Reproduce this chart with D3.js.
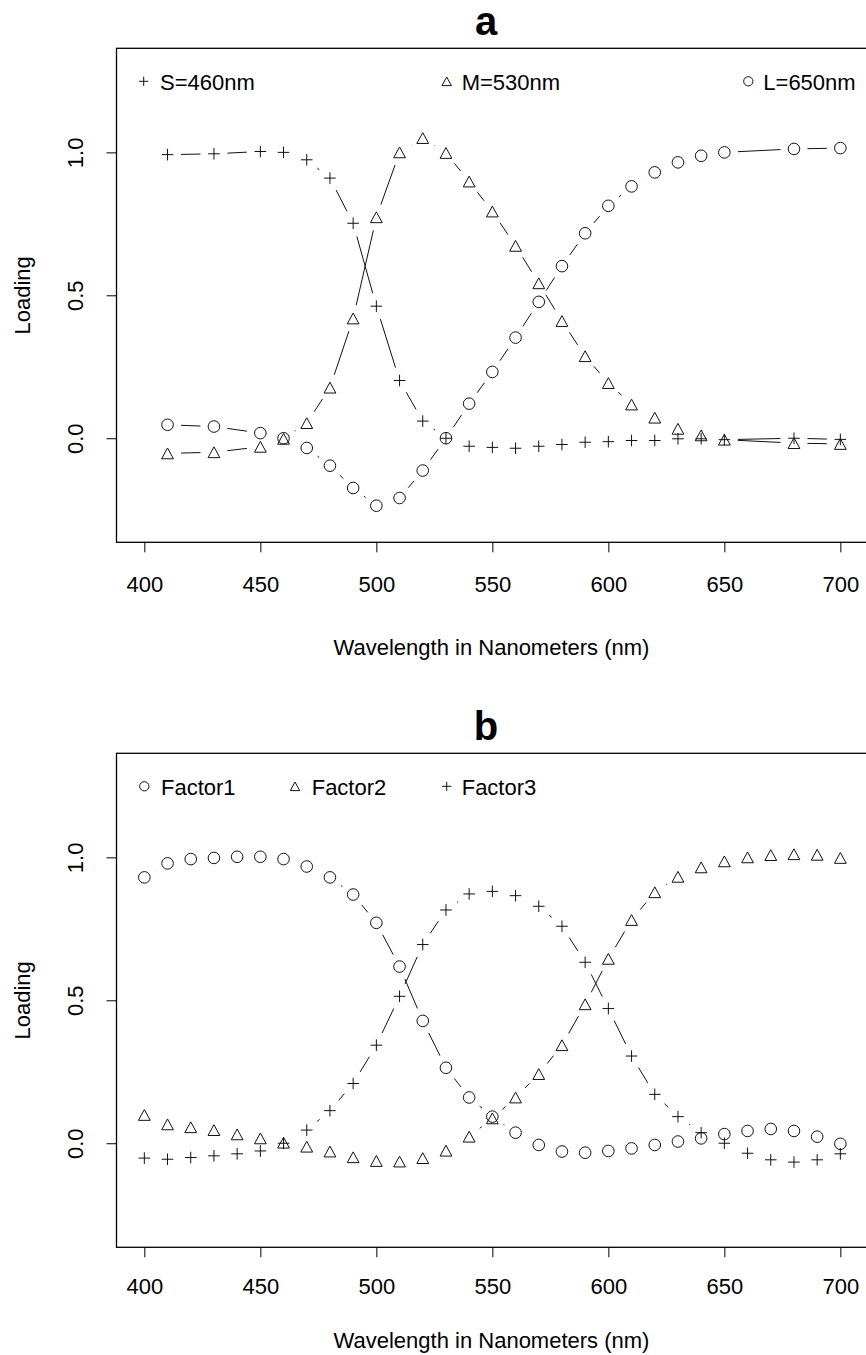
<!DOCTYPE html>
<html>
<head>
<meta charset="utf-8">
<style>
	body { margin: 0; background: #fff; }
	svg { display: block; }
	text {
		font-family: "Liberation Sans", Arial, Helvetica, sans-serif;
		font-size: 22px;
		fill: #000;
	}
	.box { fill: none; stroke: #000; stroke-width: 1.3px; }
	.seg { stroke: #111; stroke-width: 1px; }
	.pt { fill: none; stroke: #111; stroke-width: 1px; }
	.title { font-weight: bold; font-size: 40px; }
</style>
</head>
<body>
<svg width="866" height="1355"></svg>
<script src="https://d3js.org/d3.v7.min.js"></script>
<script>

	// panel a: cone sensitivities
	var waveA = [410, 430, 450, 460, 470, 480, 490, 500, 510, 520, 530, 540, 550,
		560, 570, 580, 590, 600, 610, 620, 630, 640, 650, 680, 700];
	var sLoad = [0.992, 0.995, 1.003, 1.0, 0.974, 0.91, 0.752, 0.462, 0.202, 0.06, 0.0, -0.028, -0.032,
		-0.035, -0.028, -0.022, -0.014, -0.012, -0.008, -0.008, -0.002, -0.002, -0.005, 0.0, -0.004];
	var mLoad = [-0.053, -0.049, -0.03, -0.002, 0.053, 0.177, 0.419, 0.773, 1.0, 1.05, 0.998, 0.898, 0.793,
		0.673, 0.542, 0.41, 0.287, 0.193, 0.118, 0.072, 0.033, 0.01, -0.005, -0.017, -0.02];
	var lLoad = [0.047, 0.041, 0.018, 0.0, -0.034, -0.096, -0.174, -0.236, -0.209, -0.113, 0.0, 0.121, 0.232,
		0.352, 0.477, 0.602, 0.717, 0.813, 0.881, 0.93, 0.965, 0.988, 1.0, 1.012, 1.015];

	// panel b: factor loadings
	var waveB = [400, 410, 420, 430, 440, 450, 460, 470, 480, 490, 500, 510, 520, 530, 540, 550,
		560, 570, 580, 590, 600, 610, 620, 630, 640, 650, 660, 670, 680, 690, 700];
	var factor1 = [0.93, 0.979, 0.994, 0.998, 1.002, 1.002, 0.994, 0.968, 0.93, 0.87, 0.771, 0.618, 0.428, 0.264, 0.16, 0.093,
		0.037, -0.006, -0.029, -0.033, -0.027, -0.018, -0.006, 0.006, 0.017, 0.032, 0.043, 0.05, 0.043, 0.023, -0.002];
	var factor2 = [0.099, 0.066, 0.056, 0.046, 0.031, 0.017, 0.002, -0.012, -0.029, -0.049, -0.062, -0.064, -0.052, -0.026, 0.023, 0.087,
		0.16, 0.242, 0.343, 0.486, 0.645, 0.781, 0.878, 0.932, 0.965, 0.986, 1.0, 1.008, 1.011, 1.009, 0.998];
	var factor3 = [-0.052, -0.056, -0.05, -0.044, -0.037, -0.027, 0.0, 0.046, 0.114, 0.209, 0.343, 0.514, 0.695, 0.816, 0.872, 0.881,
		0.866, 0.829, 0.759, 0.633, 0.471, 0.305, 0.171, 0.093, 0.037, 0.0, -0.035, -0.058, -0.066, -0.058, -0.037];

	var xTicks = [400, 450, 500, 550, 600, 650, 700];
	var yTicks = [0, 0.5, 1];
	var xLim = [400, 700], yLim = [-0.3, 1.3];

	var svg = d3.select("svg");

	// R style 4% axis extension
	function ext(l) { var d = (l[1] - l[0]) * 0.04; return [l[0] - d, l[1] + d]; }

	var left = 116.5, right = 868.2, boxH = 494, gap = 13.5;
	var x = d3.scaleLinear().domain(ext(xLim)).range([left, right]);

	var marker = {
		plus: function (g, px, py, s) {
			g.append("path").attr("class", "pt")
				.attr("d", "M" + (px - 5.8 * s) + "," + py + "H" + (px + 5.8 * s) +
					"M" + px + "," + (py - 5.8 * s) + "V" + (py + 5.8 * s));
		},
		circle: function (g, px, py, s) {
			g.append("circle").attr("class", "pt").attr("cx", px).attr("cy", py).attr("r", 5.8 * s);
		},
		tri: function (g, px, py, s) {
			var w = 5.9 * s, h = 5.4 * s;
			g.append("path").attr("class", "pt")
				.attr("d", "M" + px + "," + (py - h) + "L" + (px + w) + "," + (py + h) + "L" + (px - w) + "," + (py + h) + "Z");
		}
	};

	function panel(top, label, labY, titleY, series, legend) {
		var y = d3.scaleLinear().domain(ext(yLim)).range([top + boxH, top]);
		var g = svg.append("g");

		// axes first, then box on top
		var xa = g.append("g").attr("transform", "translate(0," + (top + boxH) + ")")
			.call(d3.axisBottom(x).tickValues(xTicks).tickSize(10).tickPadding(6).tickFormat(d3.format("d")));
		xa.select(".domain").remove();
		xa.selectAll("text").attr("y", labY).attr("dy", null).style("font-size", "22px").style("font-family", null);
		xa.selectAll("line").attr("stroke", "#000");

		var ya = g.append("g").attr("transform", "translate(" + left + ",0)")
			.call(d3.axisLeft(y).tickValues(yTicks).tickSize(10).tickFormat(d3.format(".1f")));
		ya.select(".domain").remove();
		ya.selectAll("text")
			.attr("transform", "rotate(-90)")
			.attr("x", 0).attr("y", -33.2).attr("dy", null)
			.attr("text-anchor", "middle")
			.style("font-size", "22px").style("font-family", null);
		ya.selectAll("line").attr("stroke", "#000");

		g.append("rect").attr("class", "box")
			.attr("x", left).attr("y", top).attr("width", right - left).attr("height", boxH);

		g.append("text").attr("class", "title")
			.attr("x", 486).attr("y", top - 13.3).attr("text-anchor", "middle").text(label);

		g.append("text").attr("x", 491.5).attr("y", top + boxH + titleY)
			.attr("text-anchor", "middle").text("Wavelength in Nanometers (nm)");

		g.append("text").attr("transform", "translate(29.5," + (top + boxH / 2) + ") rotate(-90)")
			.attr("text-anchor", "middle").text("Loading");

		// type = "b": points joined by segments that stop short of each point
		series.forEach(function (s) {
			var pts = s.wave.map(function (w, i) { return [x(w), y(s.vals[i])]; });
			var sg = g.append("g");
			for (var i = 0; i < pts.length - 1; i++) {
				var dx = pts[i + 1][0] - pts[i][0], dy = pts[i + 1][1] - pts[i][1];
				var len = Math.sqrt(dx * dx + dy * dy);
				if (len <= 2 * gap) continue;
				var ux = dx / len, uy = dy / len;
				sg.append("line").attr("class", "seg")
					.attr("x1", pts[i][0] + ux * gap).attr("y1", pts[i][1] + uy * gap)
					.attr("x2", pts[i + 1][0] - ux * gap).attr("y2", pts[i + 1][1] - uy * gap);
			}
			pts.forEach(function (p) { marker[s.shape](sg, p[0], p[1], 1); });
		});

		legend.forEach(function (d) {
			marker[d.shape](g, d.sx, top + 33, 0.8);
			g.append("text").attr("x", d.tx).attr("y", top + 41.3).text(d.label);
		});
	}

	panel(48.3, "a", 49.4, 112.7, [
		{ wave: waveA, vals: sLoad, shape: "plus" },
		{ wave: waveA, vals: mLoad, shape: "tri" },
		{ wave: waveA, vals: lLoad, shape: "circle" }
	], [
		{ shape: "plus", label: "S=460nm", sx: 143.7, tx: 160 },
		{ shape: "tri", label: "M=530nm", sx: 446.7, tx: 461.7 },
		{ shape: "circle", label: "L=650nm", sx: 748.3, tx: 763.3 }
	]);

	panel(753.3, "b", 46.5, 100.5, [
		{ wave: waveB, vals: factor1, shape: "circle" },
		{ wave: waveB, vals: factor2, shape: "tri" },
		{ wave: waveB, vals: factor3, shape: "plus" }
	], [
		{ shape: "circle", label: "Factor1", sx: 144.3, tx: 161 },
		{ shape: "tri", label: "Factor2", sx: 295, tx: 311.7 },
		{ shape: "plus", label: "Factor3", sx: 446.7, tx: 461.7 }
	]);

</script>
</body>
</html>
